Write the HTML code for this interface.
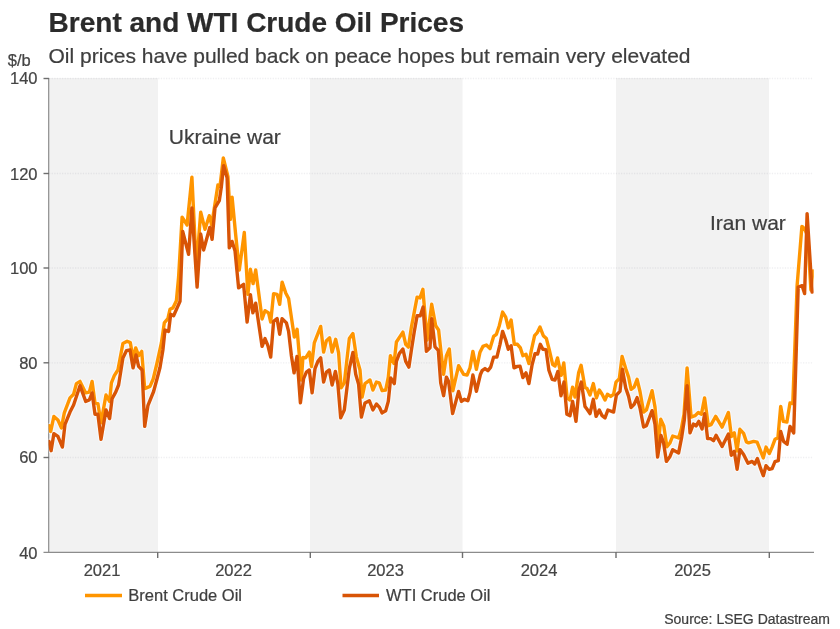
<!DOCTYPE html>
<html lang="en">
<head>
<meta charset="utf-8">
<title>Brent and WTI Crude Oil Prices</title>
<style>
html,body{margin:0;padding:0;background:#fff;}
body{width:840px;height:629px;overflow:hidden;position:relative;font-family:"Liberation Sans",Arial,sans-serif;}
svg{position:absolute;left:0;top:0;display:block;}
svg text{font-family:"Liberation Sans",Arial,sans-serif;stroke:currentColor;stroke-width:0.22px;paint-order:stroke;}
.title{font-size:28px;font-weight:700;fill:#2b2b2b;color:#2b2b2b;}
.sub{font-size:21px;fill:#3e3e3e;color:#3e3e3e;}
.ax{font-size:16.5px;fill:#444;color:#444;}
.ann{font-size:21px;fill:#3e3e3e;color:#3e3e3e;}
.leg{font-size:16.5px;fill:#3e3e3e;color:#3e3e3e;}
.src{font-size:14px;fill:#3e3e3e;color:#3e3e3e;}
</style>
</head>
<body>
<svg width="840" height="629" viewBox="0 0 840 629">
<rect x="0" y="0" width="840" height="629" fill="#ffffff"/>
<!-- shaded year bands -->
<g fill="#f2f2f2">
<rect x="49" y="78" width="109" height="474"/>
<rect x="310" y="78" width="152.5" height="474"/>
<rect x="616" y="78" width="153" height="474"/>
</g>
<!-- gridlines -->
<g stroke="#8c8ca0" stroke-opacity="0.14" stroke-width="1.3" stroke-dasharray="1.3,1.3" fill="none">
<line x1="49" y1="78.5" x2="813" y2="78.5"/>
<line x1="49" y1="173.5" x2="813" y2="173.5"/>
<line x1="49" y1="268" x2="813" y2="268"/>
<line x1="49" y1="362.8" x2="813" y2="362.8"/>
<line x1="49" y1="457.5" x2="813" y2="457.5"/>
</g>
<!-- axes -->
<g stroke="#8c8c8c" stroke-width="1.2" fill="none">
<line x1="48.7" y1="78" x2="48.7" y2="552.6"/>
<line x1="43.5" y1="552.3" x2="814" y2="552.3"/>
</g>
<g stroke="#6e6e6e" stroke-width="1.4" fill="none">
<line x1="43.5" y1="78.5" x2="49" y2="78.5"/>
<line x1="43.5" y1="173.5" x2="49" y2="173.5"/>
<line x1="43.5" y1="268" x2="49" y2="268"/>
<line x1="43.5" y1="362.8" x2="49" y2="362.8"/>
<line x1="43.5" y1="457.5" x2="49" y2="457.5"/>
<line x1="157.7" y1="552.3" x2="157.7" y2="558"/>
<line x1="310.3" y1="552" x2="310.3" y2="558"/>
<line x1="462.5" y1="552" x2="462.5" y2="558"/>
<line x1="616" y1="552" x2="616" y2="558"/>
<line x1="769.3" y1="552" x2="769.3" y2="558"/>
</g>
<!-- series -->
<clipPath id="plot"><rect x="48.6" y="70" width="765.2" height="482"/></clipPath>
<g fill="none" stroke-linejoin="round" stroke-linecap="round" clip-path="url(#plot)">
<polyline stroke="#ffffff" stroke-opacity="0.6" stroke-width="5.6" points="49.0,425.7 50.7,431.4 53.9,416.4 57.9,420.0 61.4,427.9 64.3,412.9 70.0,397.9 73.6,394.3 76.4,383.6 80.0,381.4 85.7,392.9 89.3,392.1 92.1,381.4 95.0,402.9 97.9,403.6 101.0,422.9 106.0,395.0 109.6,401.4 111.4,382.9 114.3,375.7 117.9,370.0 122.9,343.5 127.1,341.2 130.3,342.6 133.1,358.6 135.7,347.9 138.6,355.7 141.7,351.4 144.7,388.6 150.0,386.4 153.2,379.0 156.8,364.0 161.4,342.9 164.3,322.9 167.9,318.6 170.0,309.3 172.9,307.9 176.4,300.7 178.6,277.0 182.1,217.1 187.1,225.0 191.9,177.1 196.4,268.6 200.7,212.1 205.0,229.3 209.3,215.7 211.7,225.0 217.9,185.0 220.0,186.4 223.3,157.9 227.9,176.4 230.4,219.3 232.1,197.1 235.7,235.0 239.3,270.0 244.3,232.5 247.9,294.3 250.4,269.3 253.1,283.6 255.7,270.0 262.1,319.0 265.0,310.7 268.6,312.9 270.7,322.1 273.6,293.6 277.1,294.3 279.7,304.3 282.1,282.1 285.7,292.9 288.6,298.6 294.3,337.1 297.1,329.3 301.4,380.0 302.9,357.5 305.7,357.9 309.3,352.1 311.5,366.5 314.3,342.9 320.7,326.4 323.6,352.1 326.4,340.7 329.6,337.9 332.1,352.1 335.7,339.3 338.6,352.9 341.1,387.9 344.3,382.9 349.3,338.6 352.9,333.6 356.4,357.1 360.0,370.0 362.1,397.1 365.0,383.6 370.0,380.0 372.9,390.0 376.4,382.1 379.3,382.9 382.1,390.7 385.7,390.0 388.3,377.1 390.4,355.7 394.0,363.6 396.4,342.0 402.9,332.1 405.7,344.3 408.4,347.1 411.4,327.1 417.1,297.1 420.0,297.9 422.9,289.3 427.1,340.0 431.7,304.3 435.7,325.7 438.6,330.0 441.4,355.7 443.6,374.3 446.4,355.7 449.3,349.0 452.9,390.7 458.6,365.7 463.6,374.3 467.1,375.0 470.0,367.9 472.9,351.4 476.4,369.3 480.0,352.2 482.9,346.4 486.4,345.0 490.0,348.6 493.6,336.4 496.4,334.3 499.3,325.7 502.6,312.1 505.7,317.1 508.3,327.9 511.1,320.0 514.3,344.3 517.4,344.3 520.4,347.9 522.9,355.7 526.0,354.3 528.9,363.6 531.4,350.0 534.6,335.7 537.1,332.9 540.0,327.1 543.3,335.7 546.4,338.6 549.3,350.0 552.7,364.6 555.0,366.0 557.5,357.9 561.2,375.3 563.8,362.9 567.1,397.9 570.0,400.0 572.6,387.1 575.0,397.1 578.6,372.9 581.1,365.3 585.0,387.5 587.1,388.6 590.0,395.0 593.3,383.6 596.4,397.9 599.3,390.0 602.1,394.3 605.0,400.0 607.4,394.3 610.7,396.4 613.6,394.3 616.0,382.1 619.3,378.6 622.1,356.4 625.7,368.6 628.6,377.1 631.1,389.3 634.1,387.1 637.1,379.3 640.0,391.5 643.6,412.1 646.4,410.0 652.1,390.7 655.0,407.1 658.3,444.0 660.7,419.3 663.8,426.0 666.9,446.8 670.0,442.9 672.7,436.0 678.6,437.9 681.4,428.6 684.0,414.3 687.1,367.9 691.1,417.1 695.0,415.7 698.3,412.6 701.4,414.3 704.6,397.9 708.3,425.7 711.1,424.6 715.7,416.4 722.1,427.1 728.4,412.5 731.4,436.5 734.3,432.9 737.0,451.0 739.9,429.3 743.6,433.4 746.4,441.9 748.6,442.9 753.6,441.4 757.1,442.1 760.0,449.3 763.3,457.9 766.0,447.1 769.3,453.6 772.1,447.1 775.0,439.3 777.9,437.9 780.7,406.4 783.3,421.4 786.9,422.1 790.0,402.9 792.8,403.6 797.1,285.7 801.9,226.4 804.4,228.6 807.8,236.0 810.9,290.0 812.9,271.0"/>
<polyline stroke="#ffffff" stroke-opacity="0.6" stroke-width="5.6" points="49.0,441.4 51.1,450.7 53.9,433.6 57.9,436.4 62.4,447.1 65.0,424.3 70.0,412.1 73.6,405.0 80.0,385.7 85.7,401.4 89.3,400.0 92.1,392.9 95.0,414.3 97.9,414.3 101.0,439.3 106.0,410.0 109.6,418.6 112.1,398.6 115.7,392.2 118.6,385.0 122.9,357.9 126.4,350.7 130.0,350.0 133.1,367.9 136.0,355.0 138.6,366.4 142.1,370.0 144.7,426.4 147.9,405.7 153.6,391.5 157.1,378.5 160.0,367.5 162.9,350.0 165.0,330.0 168.6,331.4 170.7,314.3 173.6,315.7 180.0,301.4 182.7,231.5 188.6,254.3 191.9,207.9 197.1,287.1 200.7,234.0 203.6,250.0 209.8,227.5 212.1,239.3 215.0,207.9 219.3,200.7 221.4,186.4 223.6,165.6 227.1,177.9 229.3,247.9 232.1,241.4 235.0,250.7 238.6,287.9 243.6,284.3 247.1,322.1 250.4,294.6 252.9,312.9 255.7,303.2 262.1,346.4 265.0,338.6 267.9,345.7 270.7,357.1 273.6,321.4 277.1,318.6 279.7,334.3 282.1,318.6 286.4,322.9 288.6,331.4 291.4,355.7 294.1,372.9 297.0,356.4 300.4,402.9 303.6,378.6 306.4,372.1 309.3,370.0 312.1,392.9 315.0,368.6 317.9,361.4 320.7,357.9 323.6,382.1 326.4,372.1 329.3,370.0 332.1,385.0 335.4,371.4 337.9,384.3 340.7,417.9 344.3,410.0 349.3,368.6 352.9,352.5 355.7,374.3 358.6,384.3 361.4,417.1 365.0,402.9 369.3,400.7 372.9,410.0 376.4,404.0 379.3,407.1 382.1,412.9 385.7,410.7 388.3,401.4 390.7,377.9 394.3,383.6 396.4,361.4 399.3,353.6 402.9,349.0 405.7,361.4 408.9,367.1 411.4,350.0 414.3,331.4 417.1,315.7 420.3,315.7 423.1,307.1 426.4,351.4 430.0,347.8 431.7,318.6 435.0,346.8 438.3,350.4 440.7,382.9 443.6,395.7 446.4,377.1 448.6,381.4 452.6,413.6 458.6,391.4 461.4,401.4 464.3,399.3 467.9,400.7 470.0,392.9 472.9,375.0 476.4,391.4 480.4,374.5 482.1,370.7 485.0,368.6 487.9,370.7 490.7,367.1 493.6,357.1 496.9,357.1 500.0,344.3 502.6,331.4 505.7,340.0 508.3,349.3 511.1,345.7 514.0,367.9 517.4,366.4 520.0,366.2 522.9,377.5 526.0,372.9 528.9,383.6 532.1,364.7 535.0,353.6 537.6,354.0 540.3,344.3 542.9,349.3 546.0,349.6 548.9,370.3 552.1,379.3 555.0,380.0 557.9,371.4 561.0,395.7 564.0,382.1 566.9,414.3 570.0,415.7 572.6,401.4 576.0,421.4 578.9,390.0 581.3,382.1 585.0,406.4 587.1,409.3 590.0,413.6 593.3,399.3 596.1,416.4 599.3,410.0 602.1,415.7 605.0,417.9 607.9,410.0 613.6,412.1 616.4,395.0 620.0,391.4 622.4,369.3 625.7,387.9 628.6,396.4 631.0,407.5 634.2,404.3 637.1,397.6 640.0,408.0 643.6,427.0 646.4,425.7 652.1,410.7 655.0,424.3 657.6,457.0 661.0,435.5 663.6,442.9 666.4,461.4 670.0,456.4 672.7,449.7 678.6,452.9 681.7,437.1 684.3,420.0 687.1,385.7 690.0,432.9 693.4,424.0 696.0,426.0 698.8,421.4 702.1,429.0 704.7,413.6 707.6,438.6 710.7,438.6 713.5,440.7 716.1,435.3 722.1,446.4 728.4,434.0 731.3,455.3 734.3,451.4 737.1,469.3 740.0,449.6 743.6,454.6 748.0,463.3 752.1,461.4 754.7,464.0 757.4,458.6 760.4,467.9 763.3,475.7 766.0,465.7 769.3,469.3 772.1,468.6 775.0,461.7 778.3,460.7 780.7,431.4 783.6,441.4 787.1,444.3 790.0,426.4 793.7,432.9 798.2,287.0 802.1,285.7 804.6,293.6 807.1,213.6 812.1,292.1"/>
<polyline stroke="#ff9500" stroke-width="3.4" points="49.0,425.7 50.7,431.4 53.9,416.4 57.9,420.0 61.4,427.9 64.3,412.9 70.0,397.9 73.6,394.3 76.4,383.6 80.0,381.4 85.7,392.9 89.3,392.1 92.1,381.4 95.0,402.9 97.9,403.6 101.0,422.9 106.0,395.0 109.6,401.4 111.4,382.9 114.3,375.7 117.9,370.0 122.9,343.5 127.1,341.2 130.3,342.6 133.1,358.6 135.7,347.9 138.6,355.7 141.7,351.4 144.7,388.6 150.0,386.4 153.2,379.0 156.8,364.0 161.4,342.9 164.3,322.9 167.9,318.6 170.0,309.3 172.9,307.9 176.4,300.7 178.6,277.0 182.1,217.1 187.1,225.0 191.9,177.1 196.4,268.6 200.7,212.1 205.0,229.3 209.3,215.7 211.7,225.0 217.9,185.0 220.0,186.4 223.3,157.9 227.9,176.4 230.4,219.3 232.1,197.1 235.7,235.0 239.3,270.0 244.3,232.5 247.9,294.3 250.4,269.3 253.1,283.6 255.7,270.0 262.1,319.0 265.0,310.7 268.6,312.9 270.7,322.1 273.6,293.6 277.1,294.3 279.7,304.3 282.1,282.1 285.7,292.9 288.6,298.6 294.3,337.1 297.1,329.3 301.4,380.0 302.9,357.5 305.7,357.9 309.3,352.1 311.5,366.5 314.3,342.9 320.7,326.4 323.6,352.1 326.4,340.7 329.6,337.9 332.1,352.1 335.7,339.3 338.6,352.9 341.1,387.9 344.3,382.9 349.3,338.6 352.9,333.6 356.4,357.1 360.0,370.0 362.1,397.1 365.0,383.6 370.0,380.0 372.9,390.0 376.4,382.1 379.3,382.9 382.1,390.7 385.7,390.0 388.3,377.1 390.4,355.7 394.0,363.6 396.4,342.0 402.9,332.1 405.7,344.3 408.4,347.1 411.4,327.1 417.1,297.1 420.0,297.9 422.9,289.3 427.1,340.0 431.7,304.3 435.7,325.7 438.6,330.0 441.4,355.7 443.6,374.3 446.4,355.7 449.3,349.0 452.9,390.7 458.6,365.7 463.6,374.3 467.1,375.0 470.0,367.9 472.9,351.4 476.4,369.3 480.0,352.2 482.9,346.4 486.4,345.0 490.0,348.6 493.6,336.4 496.4,334.3 499.3,325.7 502.6,312.1 505.7,317.1 508.3,327.9 511.1,320.0 514.3,344.3 517.4,344.3 520.4,347.9 522.9,355.7 526.0,354.3 528.9,363.6 531.4,350.0 534.6,335.7 537.1,332.9 540.0,327.1 543.3,335.7 546.4,338.6 549.3,350.0 552.7,364.6 555.0,366.0 557.5,357.9 561.2,375.3 563.8,362.9 567.1,397.9 570.0,400.0 572.6,387.1 575.0,397.1 578.6,372.9 581.1,365.3 585.0,387.5 587.1,388.6 590.0,395.0 593.3,383.6 596.4,397.9 599.3,390.0 602.1,394.3 605.0,400.0 607.4,394.3 610.7,396.4 613.6,394.3 616.0,382.1 619.3,378.6 622.1,356.4 625.7,368.6 628.6,377.1 631.1,389.3 634.1,387.1 637.1,379.3 640.0,391.5 643.6,412.1 646.4,410.0 652.1,390.7 655.0,407.1 658.3,444.0 660.7,419.3 663.8,426.0 666.9,446.8 670.0,442.9 672.7,436.0 678.6,437.9 681.4,428.6 684.0,414.3 687.1,367.9 691.1,417.1 695.0,415.7 698.3,412.6 701.4,414.3 704.6,397.9 708.3,425.7 711.1,424.6 715.7,416.4 722.1,427.1 728.4,412.5 731.4,436.5 734.3,432.9 737.0,451.0 739.9,429.3 743.6,433.4 746.4,441.9 748.6,442.9 753.6,441.4 757.1,442.1 760.0,449.3 763.3,457.9 766.0,447.1 769.3,453.6 772.1,447.1 775.0,439.3 777.9,437.9 780.7,406.4 783.3,421.4 786.9,422.1 790.0,402.9 792.8,403.6 797.1,285.7 801.9,226.4 804.4,228.6 807.8,236.0 810.9,290.0 812.9,271.0"/>
<polyline stroke="#d85406" stroke-width="3.4" points="49.0,441.4 51.1,450.7 53.9,433.6 57.9,436.4 62.4,447.1 65.0,424.3 70.0,412.1 73.6,405.0 80.0,385.7 85.7,401.4 89.3,400.0 92.1,392.9 95.0,414.3 97.9,414.3 101.0,439.3 106.0,410.0 109.6,418.6 112.1,398.6 115.7,392.2 118.6,385.0 122.9,357.9 126.4,350.7 130.0,350.0 133.1,367.9 136.0,355.0 138.6,366.4 142.1,370.0 144.7,426.4 147.9,405.7 153.6,391.5 157.1,378.5 160.0,367.5 162.9,350.0 165.0,330.0 168.6,331.4 170.7,314.3 173.6,315.7 180.0,301.4 182.7,231.5 188.6,254.3 191.9,207.9 197.1,287.1 200.7,234.0 203.6,250.0 209.8,227.5 212.1,239.3 215.0,207.9 219.3,200.7 221.4,186.4 223.6,165.6 227.1,177.9 229.3,247.9 232.1,241.4 235.0,250.7 238.6,287.9 243.6,284.3 247.1,322.1 250.4,294.6 252.9,312.9 255.7,303.2 262.1,346.4 265.0,338.6 267.9,345.7 270.7,357.1 273.6,321.4 277.1,318.6 279.7,334.3 282.1,318.6 286.4,322.9 288.6,331.4 291.4,355.7 294.1,372.9 297.0,356.4 300.4,402.9 303.6,378.6 306.4,372.1 309.3,370.0 312.1,392.9 315.0,368.6 317.9,361.4 320.7,357.9 323.6,382.1 326.4,372.1 329.3,370.0 332.1,385.0 335.4,371.4 337.9,384.3 340.7,417.9 344.3,410.0 349.3,368.6 352.9,352.5 355.7,374.3 358.6,384.3 361.4,417.1 365.0,402.9 369.3,400.7 372.9,410.0 376.4,404.0 379.3,407.1 382.1,412.9 385.7,410.7 388.3,401.4 390.7,377.9 394.3,383.6 396.4,361.4 399.3,353.6 402.9,349.0 405.7,361.4 408.9,367.1 411.4,350.0 414.3,331.4 417.1,315.7 420.3,315.7 423.1,307.1 426.4,351.4 430.0,347.8 431.7,318.6 435.0,346.8 438.3,350.4 440.7,382.9 443.6,395.7 446.4,377.1 448.6,381.4 452.6,413.6 458.6,391.4 461.4,401.4 464.3,399.3 467.9,400.7 470.0,392.9 472.9,375.0 476.4,391.4 480.4,374.5 482.1,370.7 485.0,368.6 487.9,370.7 490.7,367.1 493.6,357.1 496.9,357.1 500.0,344.3 502.6,331.4 505.7,340.0 508.3,349.3 511.1,345.7 514.0,367.9 517.4,366.4 520.0,366.2 522.9,377.5 526.0,372.9 528.9,383.6 532.1,364.7 535.0,353.6 537.6,354.0 540.3,344.3 542.9,349.3 546.0,349.6 548.9,370.3 552.1,379.3 555.0,380.0 557.9,371.4 561.0,395.7 564.0,382.1 566.9,414.3 570.0,415.7 572.6,401.4 576.0,421.4 578.9,390.0 581.3,382.1 585.0,406.4 587.1,409.3 590.0,413.6 593.3,399.3 596.1,416.4 599.3,410.0 602.1,415.7 605.0,417.9 607.9,410.0 613.6,412.1 616.4,395.0 620.0,391.4 622.4,369.3 625.7,387.9 628.6,396.4 631.0,407.5 634.2,404.3 637.1,397.6 640.0,408.0 643.6,427.0 646.4,425.7 652.1,410.7 655.0,424.3 657.6,457.0 661.0,435.5 663.6,442.9 666.4,461.4 670.0,456.4 672.7,449.7 678.6,452.9 681.7,437.1 684.3,420.0 687.1,385.7 690.0,432.9 693.4,424.0 696.0,426.0 698.8,421.4 702.1,429.0 704.7,413.6 707.6,438.6 710.7,438.6 713.5,440.7 716.1,435.3 722.1,446.4 728.4,434.0 731.3,455.3 734.3,451.4 737.1,469.3 740.0,449.6 743.6,454.6 748.0,463.3 752.1,461.4 754.7,464.0 757.4,458.6 760.4,467.9 763.3,475.7 766.0,465.7 769.3,469.3 772.1,468.6 775.0,461.7 778.3,460.7 780.7,431.4 783.6,441.4 787.1,444.3 790.0,426.4 793.7,432.9 798.2,287.0 802.1,285.7 804.6,293.6 807.1,213.6 812.1,292.1"/>
</g>
<!-- text -->
<text class="title" x="48.6" y="31.5">Brent and WTI Crude Oil Prices</text>
<text class="sub" x="48.5" y="63.3">Oil prices have pulled back on peace hopes but remain very elevated</text>
<text class="ax" x="7.8" y="65.8">$/b</text>
<g class="ax" text-anchor="end">
<text x="37.5" y="84.3">140</text>
<text x="37.5" y="179.8">120</text>
<text x="37.5" y="273.6">100</text>
<text x="37.5" y="369.3">80</text>
<text x="37.5" y="463.2">60</text>
<text x="37.5" y="558.8">40</text>
</g>
<g class="ax" text-anchor="middle">
<text x="102" y="575.9">2021</text>
<text x="233.5" y="575.9">2022</text>
<text x="385.5" y="575.9">2023</text>
<text x="539" y="575.9">2024</text>
<text x="692.5" y="575.9">2025</text>
</g>
<text class="ann" x="168.8" y="143.8">Ukraine war</text>
<text class="ann" x="710" y="229.9">Iran war</text>
<!-- legend -->
<line x1="85" y1="595.5" x2="122" y2="595.5" stroke="#ff9500" stroke-width="3.4"/>
<text class="leg" x="128.3" y="600.8">Brent Crude Oil</text>
<line x1="342.5" y1="595.5" x2="379" y2="595.5" stroke="#d85406" stroke-width="3.4"/>
<text class="leg" x="386" y="600.8">WTI Crude Oil</text>
<text class="src" x="830" y="624" text-anchor="end">Source: LSEG Datastream</text>
</svg>
</body>
</html>
